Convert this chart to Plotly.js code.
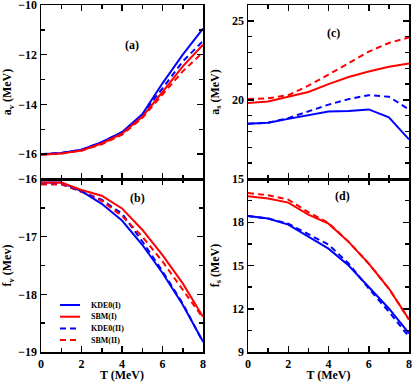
<!DOCTYPE html>
<html>
<head>
<meta charset="utf-8">
<script src="https://cdn.plot.ly/plotly-3.0.1.min.js"></script>
<style>
  body { margin: 0; background: #fff; }
  #plot { width: 415px; height: 382px; }
</style>
</head>
<body>
<div id="plot"></div>
<script>
// temperatures
const T = [0, 1, 2, 3, 4, 5, 6, 7, 8];

// (a) a_v
const av_kde_I  = [-16.0, -15.95, -15.82, -15.52, -15.12, -14.4, -13.15, -12.0, -10.95];
const av_sbm_I  = [-16.02, -15.97, -15.85, -15.57, -15.18, -14.5, -13.5, -12.47, -11.6];
const av_kde_II = [-16.0, -15.95, -15.82, -15.52, -15.12, -14.42, -13.35, -12.27, -11.45];
const av_sbm_II = [-16.02, -15.97, -15.86, -15.6, -15.22, -14.55, -13.6, -12.67, -11.9];

// (b) f_v
const fv_kde_I  = [-16.06, -16.06, -16.21, -16.43, -16.72, -17.14, -17.63, -18.18, -18.82];
const fv_sbm_I  = [-16.06, -16.06, -16.19, -16.29, -16.51, -16.88, -17.32, -17.81, -18.39];
const fv_kde_II = [-16.09, -16.09, -16.22, -16.36, -16.6, -17.08, -17.6, -18.16, -18.83];
const fv_sbm_II = [-16.09, -16.09, -16.22, -16.38, -16.64, -17.0, -17.43, -17.92, -18.41];

// (c) a_s
const as_kde_I  = [18.5, 18.55, 18.8, 19.05, 19.26, 19.3, 19.4, 18.9, 17.5];
const as_sbm_I  = [19.8, 19.9, 20.2, 20.5, 21.0, 21.45, 21.8, 22.1, 22.3];
const as_kde_II = [18.5, 18.56, 18.85, 19.3, 19.7, 20.05, 20.3, 20.2, 19.4];
const as_sbm_II = [20.06, 20.1, 20.3, 20.9, 21.6, 22.3, 23.05, 23.6, 23.95];

// (d) f_s
const fs_kde_I  = [18.44, 18.26, 17.84, 16.98, 16.17, 15.0, 13.52, 12.02, 10.29];
const fs_sbm_I  = [19.8, 19.64, 19.36, 18.53, 17.9, 16.64, 15.13, 13.4, 11.25];
const fs_kde_II = [18.44, 18.26, 17.9, 17.15, 16.45, 15.14, 13.4, 11.8, 10.05];
const fs_sbm_II = [20.03, 19.87, 19.57, 18.7, 17.95, 16.64, 15.13, 13.4, 11.25];

// legend
const legendNames  = ['KDE0(I)', 'SBM(I)', 'KDE0(II)', 'SBM(II)'];
const legendColors = ['#0000ff', '#ff0000', '#0000ff', '#ff0000'];
const legendDashes = ['solid', 'solid', 'dash', 'dash'];

const W = 415, H = 382;
const FONT = 'Liberation Serif, Times New Roman, serif';
const DASH = '6px,4px';

function line(y, color, dash, xa, ya) {
    return {
        x: T, y: y, xaxis: xa, yaxis: ya,
        type: 'scatter', mode: 'lines',
        line: {color: color, width: 2, dash: dash === 'dash' ? DASH : 'solid'},
        showlegend: false, hoverinfo: 'skip'
    };
}

const panels = [
    {xa: 'x',  ya: 'y',  s: [av_kde_I, av_sbm_I, av_kde_II, av_sbm_II]},
    {xa: 'x2', ya: 'y2', s: [fv_kde_I, fv_sbm_I, fv_kde_II, fv_sbm_II]},
    {xa: 'x3', ya: 'y3', s: [as_kde_I, as_sbm_I, as_kde_II, as_sbm_II]},
    {xa: 'x4', ya: 'y4', s: [fs_kde_I, fs_sbm_I, fs_kde_II, fs_sbm_II]},
];

var data = [];
panels.forEach(p => {
    // dashed first so the solid ones sit on top
    [2, 3, 0, 1].forEach(i => {
        data.push(line(p.s[i], legendColors[i], legendDashes[i], p.xa, p.ya));
    });
});

// pixel helpers for domains
const px = v => v / W;
const py = v => 1 - v / H;

const tickfont = {family: FONT, size: 12, color: '#000', weight: 'bold'};
const titlefont = {family: FONT, size: 12, color: '#000', weight: 'bold'};

function minor(dtick, tick0) {
    return {dtick: dtick, tick0: tick0 || 0, ticks: 'inside', ticklen: 4, tickwidth: 1.5, tickcolor: '#000', showgrid: false};
}

function axis(extra) {
    return Object.assign({
        showline: true, linecolor: '#000', linewidth: 1.5,
        mirror: 'ticks', ticks: 'inside', ticklen: 6, tickwidth: 1.5, tickcolor: '#000',
        showgrid: false, zeroline: false, tickfont: tickfont,
        ticklabeloverflow: 'allow'
    }, extra);
}

const xdL = [px(41), px(203)];
const xdR = [px(248), px(409)];
const ydT = [py(179), py(5)];
const ydB = [py(352), py(179)];

const xcommon = {range: [0, 8], tick0: 0, dtick: 2, minor: minor(1)};
const xtitle = {text: 'T (MeV)', font: titlefont, standoff: 0};

var layout = {
    width: W, height: H,
    margin: {l: 0, r: 0, t: 0, b: 0},
    paper_bgcolor: '#fff', plot_bgcolor: '#fff',
    showlegend: false,
    xaxis:  axis(Object.assign({domain: xdL, anchor: 'y',  showticklabels: false}, xcommon)),
    xaxis2: axis(Object.assign({domain: xdL, anchor: 'y2', title: xtitle}, xcommon)),
    xaxis3: axis(Object.assign({domain: xdR, anchor: 'y3', showticklabels: false}, xcommon)),
    xaxis4: axis(Object.assign({domain: xdR, anchor: 'y4', title: xtitle}, xcommon)),
    yaxis: axis({domain: ydT, anchor: 'x', range: [-17, -10], tick0: -10, dtick: 2, minor: minor(1),
        title: {text: 'a<sub>v</sub> (MeV)', font: titlefont, standoff: 8}}),
    yaxis2: axis({domain: ydB, anchor: 'x2', range: [-19, -16], tick0: -16, dtick: 1, minor: minor(0.5),
        title: {text: 'f<sub>v</sub> (Mev)', font: titlefont, standoff: 8}}),
    yaxis3: axis({domain: ydT, anchor: 'x3', range: [15, 26], tick0: 0, dtick: 5, minor: minor(1),
        title: {text: 'a<sub>s</sub> (MeV)', font: titlefont, standoff: 10}}),
    yaxis4: axis({domain: ydB, anchor: 'x4', range: [9, 21], tickmode: 'array', tickvals: [9, 12, 15, 18],
        minor: minor(1.5, 9),
        title: {text: 'f<sub>s</sub> (MeV)', font: titlefont, standoff: 10}}),
    annotations: [
        {text: '(a)', x: 4.5, y: -11.6, xref: 'x', yref: 'y'},
        {text: '(b)', x: 4.75, y: -16.33, xref: 'x2', yref: 'y2'},
        {text: '(c)', x: 4.25, y: 24.25, xref: 'x3', yref: 'y3'},
        {text: '(d)', x: 4.7, y: 19.85, xref: 'x4', yref: 'y4'},
    ].map(a => Object.assign(a, {showarrow: false, font: {family: FONT, size: 12, color: '#000', weight: 'bold'}})),
    shapes: []
};

// legend inside panel (b)
legendNames.forEach((name, i) => {
    const yy = 305 + i * 11.7;
    layout.shapes.push({
        type: 'line', xref: 'paper', yref: 'paper',
        x0: px(60), x1: px(80), y0: py(yy), y1: py(yy),
        line: {color: legendColors[i], width: 2, dash: legendDashes[i] === 'dash' ? DASH : 'solid'}
    });
    layout.annotations.push({
        text: name, xref: 'paper', yref: 'paper', x: px(89), y: py(yy),
        xanchor: 'left', yanchor: 'middle', showarrow: false,
        font: {family: FONT, size: 8, color: '#000', weight: 'bold'}
    });
});

Plotly.newPlot('plot', data, layout, {staticPlot: true, displayModeBar: false});
</script>
</body>
</html>
